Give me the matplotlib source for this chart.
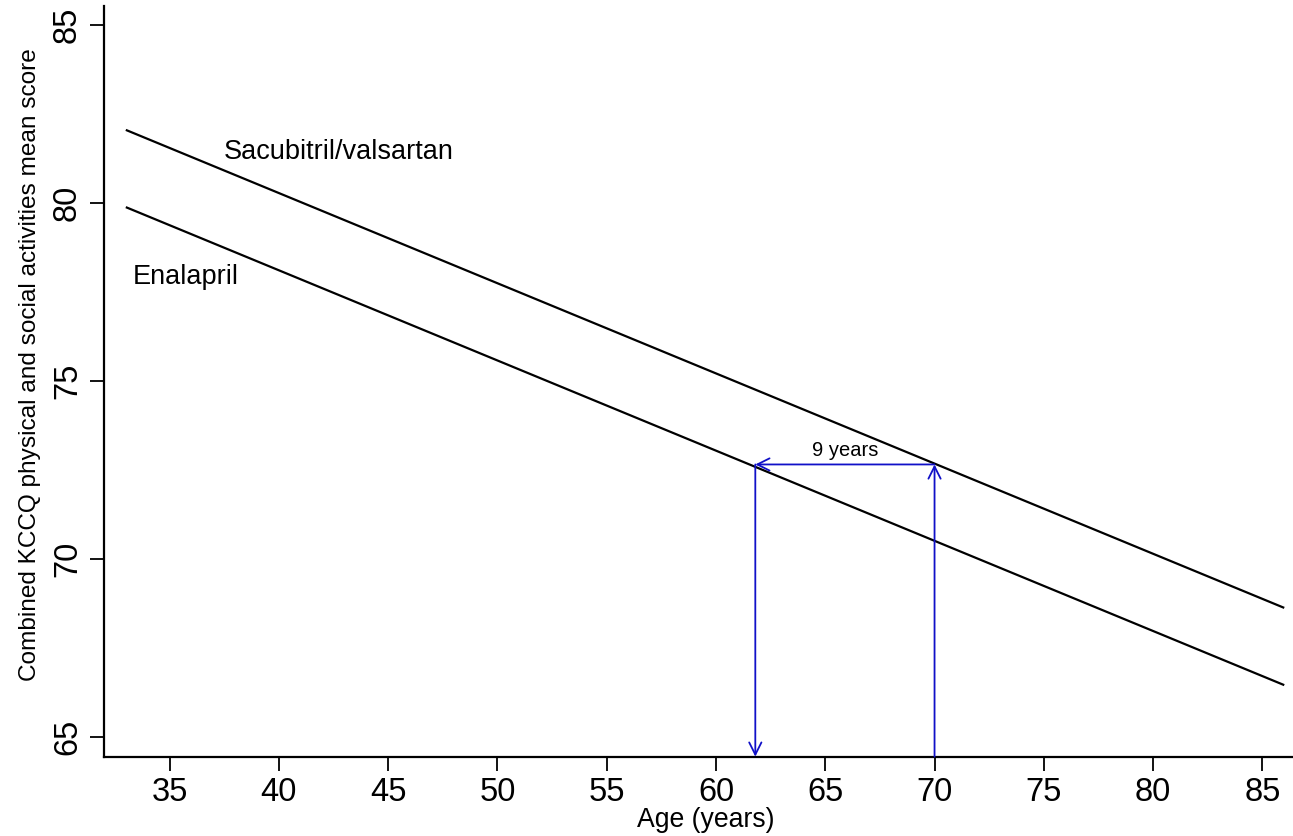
import matplotlib
matplotlib.use("Agg")
import matplotlib.pyplot as plt

plt.rcParams['font.family'] = ['Liberation Sans', 'DejaVu Sans']

# Fitted regression lines (age vs. combined KCCQ score)
ages = [33, 86]
sacubitril = [82.05, 68.62]
enalapril = [79.88, 66.45]

# Age-equivalence annotation
age_ref = 70.0
age_equiv = 61.8
score_level = 72.65
gap_label = "9 years"

xticks = [35, 40, 45, 50, 55, 60, 65, 70, 75, 80, 85]
yticks = [65, 70, 75, 80, 85]

fig = plt.figure(figsize=(12.93, 8.36), dpi=100)
ax = fig.add_axes([0.0804, 0.0949, 0.9196, 0.8983])

ax.plot(ages, sacubitril, color='black', lw=1.6, solid_capstyle='butt')
ax.plot(ages, enalapril, color='black', lw=1.6, solid_capstyle='butt')

ax.set_xlim(32.0, 86.4)
ax.set_ylim(64.44, 85.54)

blue = '#1010c8'
ybot = ax.get_ylim()[0]
arrow = dict(arrowstyle='->', color=blue, lw=1.3, shrinkA=0, shrinkB=0,
             mutation_scale=22)
ax.annotate('', xy=(age_ref, score_level), xytext=(age_ref, ybot),
            arrowprops=arrow, annotation_clip=False)
ax.annotate('', xy=(age_equiv, score_level), xytext=(age_ref, score_level),
            arrowprops=arrow)
ax.annotate('', xy=(age_equiv, ybot), xytext=(age_equiv, score_level),
            arrowprops=arrow, annotation_clip=False)
ax.text((age_ref + age_equiv) / 2, score_level + 0.12, gap_label,
        ha='center', va='bottom', fontsize=14.5)

ax.text(37.5, 81.43, 'Sacubitril/valsartan', fontsize=19.5, ha='left', va='center')
ax.text(33.34, 77.92, 'Enalapril', fontsize=19.5, ha='left', va='center')

ax.spines['top'].set_visible(False)
ax.spines['right'].set_visible(False)
for s in ('left', 'bottom'):
    ax.spines[s].set_linewidth(1.6)

ax.set_xticks(xticks)
ax.set_yticks(yticks)
ax.tick_params(axis='both', direction='out', length=10, width=1.3,
               labelsize=23.5, pad=5)
for lab in ax.get_yticklabels():
    lab.set_rotation(90)
    lab.set_va('center')

ax.set_xlabel('Age (years)', fontsize=19.2, va='center')
ax.xaxis.set_label_coords(0.506, -0.0843)
ax.set_ylabel('Combined KCCQ physical and social activities mean score',
              fontsize=17.6, va='center')
ax.yaxis.set_label_coords(-0.0622, 0.5216)

fig.savefig('out.png', dpi=100)
